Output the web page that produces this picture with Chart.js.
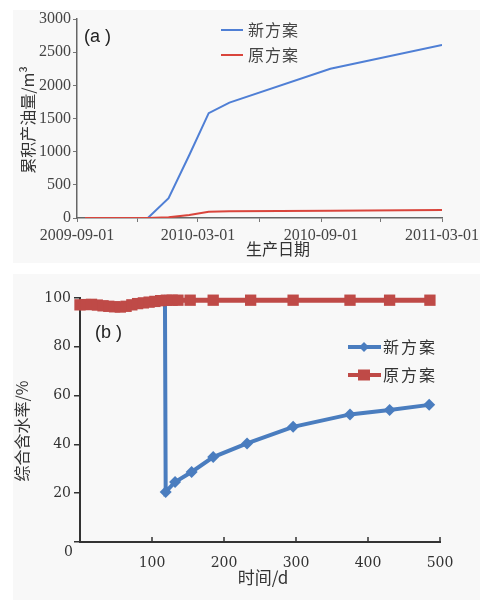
<!DOCTYPE html>
<html>
<head>
<meta charset="utf-8">
<script src="https://cdn.jsdelivr.net/npm/chart.js@4"></script>
<style>
  body { margin: 0; width: 480px; height: 602px; position: relative; overflow: hidden; background: #fff; }
  .panel { position: absolute; left: 13px; background: #f8f8f8; }
  canvas { position: absolute; left: 0; }
</style>
</head>
<body>
<div class="panel" style="top:10px;width:467px;height:253px"></div>
<div class="panel" style="top:274px;width:467px;height:326px"></div>
<canvas id="chart-a" width="480" height="265" style="top:0"></canvas>
<canvas id="chart-b" width="480" height="337" style="top:265px"></canvas>
<script>
// (a) x = days since 2009-09-01
const dateTickDays = [0, 181, 365, 546];
const dateTickLabels = ["2009-09-01", "2010-03-01", "2010-09-01", "2011-03-01"];
const minorTickDays = [91, 273, 454];
const newOilDays = [106, 137, 168, 197, 228, 379, 546];
const newOil = [0, 300, 950, 1580, 1740, 2250, 2610];
const oldOilDays = [12, 106, 137, 168, 197, 228, 379, 546];
const oldOil = [0, 0, 10, 45, 95, 100, 110, 120];

// (b) x = days
const newCutDays = [118, 119, 132, 155, 185, 232, 296, 375, 430, 485];
const newCut = [99, 20.5, 24.6, 28.7, 34.8, 40.4, 47.2, 52.3, 54.1, 56.2];
const oldCutDays = [0, 8, 16, 24, 32, 40, 48, 56, 64, 72, 80, 88, 96, 104, 112, 120, 128, 136,
  153, 185, 237, 296, 375, 430, 486];
const oldCut = [97.2, 97.3, 97.4, 97.1, 96.8, 96.6, 96.4, 96.3, 96.6, 97.2, 97.7, 98.0, 98.3, 98.6, 98.9, 99.1, 99.1, 99.1,
  99.1, 99.1, 99.1, 99.1, 99.1, 99.1, 99.1];

const seriesNames = ["新方案", "原方案"];

const toPoints = (xs, ys) => xs.map((x, i) => ({ x: x, y: ys[i] }));

const serif = '"Liberation Serif", "DejaVu Serif", serif';
const cjk = '"Noto Sans CJK SC", sans-serif';

const chartATexts = {
  id: "chartATexts",
  afterDraw(chart) {
    const { ctx } = chart;
    ctx.save();
    ctx.fillStyle = "#222";
    ctx.textBaseline = "middle";
    ctx.textAlign = "left";
    ctx.font = '18px "Liberation Sans"';
    ctx.fillText("(a )", 84, 37);

    ctx.fillStyle = "#333";
    ctx.font = "16px " + cjk;
    ctx.textAlign = "center";
    ctx.fillText("生产日期", 278, 249);

    ctx.save();
    ctx.translate(28, 120);
    ctx.rotate(-Math.PI / 2);
    ctx.fillText("累积产油量/m³", 0, 0);
    ctx.restore();

    // legend
    const colors = ["#4f7fd5", "#d9453c"];
    const ys = [30, 55];
    ctx.textAlign = "left";
    ctx.letterSpacing = "1px";
    seriesNames.forEach((name, i) => {
      ctx.strokeStyle = colors[i];
      ctx.lineWidth = 2;
      ctx.beginPath();
      ctx.moveTo(221, ys[i]);
      ctx.lineTo(243, ys[i]);
      ctx.stroke();
      ctx.fillStyle = "#444";
      ctx.fillText(name, 248, ys[i]);
    });
    ctx.restore();
  },
};

const chartBTexts = {
  id: "chartBTexts",
  afterDraw(chart) {
    const { ctx, scales, chartArea } = chart;
    ctx.save();
    // inward tick marks on the x axis
    ctx.strokeStyle = "#333";
    ctx.lineWidth = 1.5;
    scales.x.ticks.forEach((t) => {
      if (t.value === 0) return;
      const px = scales.x.getPixelForValue(t.value);
      ctx.beginPath();
      ctx.moveTo(px, chartArea.bottom);
      ctx.lineTo(px, chartArea.bottom - 5);
      ctx.stroke();
    });

    ctx.fillStyle = "#333";
    ctx.textBaseline = "middle";
    ctx.font = '14px "DejaVu Serif"';
    ctx.textAlign = "right";
    ctx.fillText("0", 73, chartArea.bottom + 10);

    ctx.fillStyle = "#222";
    ctx.textAlign = "left";
    ctx.font = '18px "Liberation Sans"';
    ctx.fillText("(b )", 95, 68);

    ctx.fillStyle = "#333";
    ctx.font = "17px " + cjk;
    ctx.textAlign = "center";
    ctx.fillText("时间/d", 263, 313);

    ctx.font = "16px " + cjk;
    ctx.save();
    ctx.translate(22, 166);
    ctx.rotate(-Math.PI / 2);
    ctx.fillText("综合含水率/%", 0, 0);
    ctx.restore();

    // legend
    const colors = ["#4a7dbf", "#bf4a47"];
    const ys = [82, 110];
    ctx.textAlign = "left";
    ctx.letterSpacing = "2px";
    seriesNames.forEach((name, i) => {
      ctx.strokeStyle = colors[i];
      ctx.fillStyle = colors[i];
      ctx.lineWidth = 4;
      ctx.beginPath();
      ctx.moveTo(348, ys[i]);
      ctx.lineTo(381, ys[i]);
      ctx.stroke();
      ctx.beginPath();
      if (i === 0) {
        ctx.moveTo(364, ys[i] - 5);
        ctx.lineTo(369, ys[i]);
        ctx.lineTo(364, ys[i] + 5);
        ctx.lineTo(359, ys[i]);
        ctx.closePath();
      } else {
        ctx.rect(358, ys[i] - 5.5, 12, 11);
      }
      ctx.fill();
      ctx.fillStyle = "#333";
      ctx.fillText(name, 383, ys[i]);
    });
    ctx.restore();
  },
};

new Chart(document.getElementById("chart-a"), {
  type: "line",
  data: {
    datasets: [
      { label: seriesNames[1], data: toPoints(oldOilDays, oldOil), borderColor: "#d9453c", borderWidth: 2, pointRadius: 0 },
      { label: seriesNames[0], data: toPoints(newOilDays, newOil), borderColor: "#4f7fd5", borderWidth: 2, pointRadius: 0 },
    ],
  },
  options: {
    responsive: false,
    animation: false,
    layout: { padding: { top: 19, right: 38, bottom: 0, left: 0 } },
    plugins: { legend: { display: false }, tooltip: { enabled: false } },
    scales: {
      x: {
        type: "linear",
        min: 0,
        max: 546,
        afterBuildTicks(scale) {
          scale.ticks = dateTickDays.concat(minorTickDays).sort((a, b) => a - b).map((v) => ({ value: v }));
        },
        afterFit(scale) {
          scale.height = 47;
          scale.paddingLeft = 0;
          scale.paddingRight = 0;
        },
        ticks: {
          autoSkip: false,
          maxRotation: 0,
          padding: 4,
          color: "#444",
          font: { family: serif, size: 16 },
          callback(value) {
            const idx = dateTickDays.indexOf(value);
            return idx >= 0 ? dateTickLabels[idx] : "";
          },
        },
        grid: { drawOnChartArea: false, tickLength: 4, color: "#777" },
        border: { color: "#666", width: 1.5 },
      },
      y: {
        min: 0,
        max: 3000,
        afterFit(scale) {
          scale.width = 77;
        },
        ticks: {
          stepSize: 500,
          padding: 2,
          color: "#444",
          font: { family: serif, size: 16 },
          callback: (value) => String(value),
        },
        grid: { drawOnChartArea: false, tickLength: 4, color: "#777" },
        border: { color: "#666", width: 1.5 },
      },
    },
  },
  plugins: [chartATexts],
});

new Chart(document.getElementById("chart-b"), {
  type: "line",
  data: {
    datasets: [
      {
        label: seriesNames[1], data: toPoints(oldCutDays, oldCut), borderColor: "#bf4a47", backgroundColor: "#bf4a47",
        borderWidth: 5, pointStyle: "rect", pointRadius: 8, pointBorderWidth: 0, clip: false,
      },
      {
        label: seriesNames[0], data: toPoints(newCutDays, newCut), borderColor: "#4a7dbf", backgroundColor: "#4a7dbf",
        borderWidth: 4, pointStyle: "rectRot", pointRadius: 6, pointBorderWidth: 0, clip: false,
      },
    ],
  },
  options: {
    responsive: false,
    animation: false,
    layout: { padding: { top: 33, right: 40, bottom: 0, left: 0 } },
    plugins: { legend: { display: false }, tooltip: { enabled: false } },
    scales: {
      x: {
        type: "linear",
        min: 0,
        max: 500,
        afterFit(scale) {
          scale.height = 60;
          scale.paddingLeft = 0;
          scale.paddingRight = 0;
        },
        ticks: {
          stepSize: 100,
          maxRotation: 0,
          padding: 5,
          color: "#333",
          font: { family: '"DejaVu Serif"', size: 14 },
          callback: (value) => (value === 0 ? "" : String(value)),
        },
        grid: { display: false },
        border: { color: "#333", width: 2 },
      },
      y: {
        min: 0,
        max: 100,
        afterFit(scale) {
          scale.width = 80;
        },
        ticks: {
          stepSize: 20,
          padding: 3,
          color: "#333",
          font: { family: '"DejaVu Serif"', size: 14 },
          callback: (value) => (value === 0 ? "" : String(value)),
        },
        grid: { drawOnChartArea: false, tickLength: 6, color: "#333", lineWidth: 1.5 },
        border: { color: "#333", width: 2 },
      },
    },
  },
  plugins: [chartBTexts],
});
</script>
</body>
</html>
